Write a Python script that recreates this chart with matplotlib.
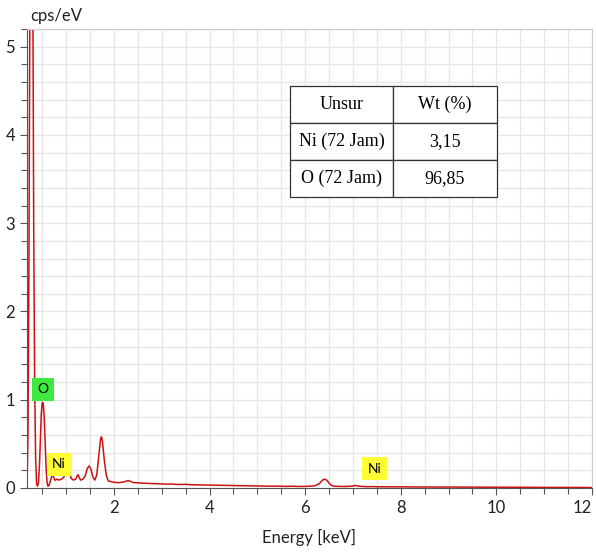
import matplotlib.pyplot as plt
from matplotlib.ticker import MultipleLocator

energy = [0.18, 0.20, 0.22, 0.24, 0.26, 0.28, 0.30, 0.32, 0.34, 0.36, 0.38,
          0.40, 0.42, 0.44, 0.46, 0.48, 0.50, 0.52, 0.54, 0.56, 0.58, 0.60,
          0.62, 0.64, 0.66, 0.68, 0.70, 0.72, 0.74, 0.76, 0.78, 0.80, 0.85,
          0.90, 0.95, 0.98, 1.00, 1.02, 1.04, 1.06, 1.08, 1.10, 1.15, 1.20,
          1.23, 1.25, 1.27, 1.30, 1.35, 1.40, 1.44, 1.48, 1.52, 1.56, 1.60,
          1.64, 1.68, 1.72, 1.74, 1.76, 1.80, 1.84, 1.88, 1.95,
          2.0, 2.1, 2.2, 2.3, 2.4, 2.5, 2.6, 2.7, 2.8, 2.9,
          3.0, 3.1, 3.2, 3.3, 3.4, 3.5, 3.6, 3.7, 3.8, 3.9,
          4.0, 4.1, 4.2, 4.3, 4.4, 4.5, 4.6, 4.7, 4.8, 4.9,
          5.0, 5.1, 5.2, 5.3, 5.4, 5.5, 5.6, 5.7, 5.8, 5.9,
          6.0, 6.1, 6.2, 6.3, 6.35, 6.4, 6.45, 6.5, 6.55, 6.6,
          6.7, 6.8, 6.9, 7.0, 7.05, 7.1, 7.2, 7.3, 7.4, 7.5, 7.6, 7.8, 8.0,
          8.2, 8.4, 8.6, 8.8, 9.0, 9.2, 9.4, 9.6, 9.8, 10.0,
          10.2, 10.4, 10.6, 10.8, 11.0, 11.2, 11.4, 11.6, 11.8, 12.0]
counts = [0.00, 0.60, 2.50, 5.50, 8.00, 8.50, 6.00, 3.00, 1.20, 0.35, 0.05,
          0.02, 0.06, 0.25, 0.55, 0.85, 0.97, 0.96, 0.80, 0.50, 0.22, 0.06,
          0.02, 0.03, 0.06, 0.10, 0.14, 0.15, 0.12, 0.09, 0.09, 0.10, 0.09,
          0.10, 0.12, 0.20, 0.30, 0.34, 0.33, 0.27, 0.17, 0.11, 0.09, 0.10,
          0.14, 0.15, 0.12, 0.09, 0.10, 0.14, 0.22, 0.25, 0.21, 0.12, 0.09,
          0.15, 0.36, 0.56, 0.58, 0.52, 0.30, 0.14, 0.08, 0.07,
          0.065, 0.060, 0.068, 0.085, 0.062, 0.058, 0.055, 0.052, 0.050, 0.048,
          0.046, 0.044, 0.045, 0.041, 0.040, 0.042, 0.037, 0.036, 0.035, 0.033,
          0.032, 0.033, 0.030, 0.029, 0.030, 0.027, 0.026, 0.027, 0.024, 0.023,
          0.022, 0.023, 0.021, 0.020, 0.021, 0.019, 0.018, 0.020, 0.018, 0.017,
          0.018, 0.020, 0.025, 0.050, 0.085, 0.100, 0.090, 0.055, 0.030, 0.020,
          0.018, 0.017, 0.018, 0.022, 0.030, 0.022, 0.017, 0.015, 0.016, 0.014, 0.014, 0.013, 0.013,
          0.012, 0.012, 0.011, 0.011, 0.010, 0.010, 0.010, 0.009, 0.009, 0.009,
          0.008, 0.008, 0.008, 0.007, 0.007, 0.007, 0.006, 0.006, 0.006, 0.005]

x_ticks = [2, 4, 6, 8, 10, 12]
y_ticks = [0, 1, 2, 3, 4, 5]

# element markers: symbol, keV, height, box colour
peak_labels = ['O', 'Ni', 'Ni']
label_energy = [0.52, 0.85, 7.46]
label_height = [1.12, 0.27, 0.22]
label_colors = ['#3ee83e', '#ffff33', '#ffff33']

table_rows = [['Unsur', 'Wt (%)'],
              ['Ni (72 Jam)', '3,15'],
              ['O (72 Jam)', '96,85']]

sans = ['Lato', 'DejaVu Sans']

fig = plt.figure(figsize=(5.96, 5.57), dpi=100)
ax = fig.add_axes([27 / 596, 69 / 557, 565 / 596, 459 / 557])

ax.plot(energy, counts, color='#cc1111', linewidth=1.1)

ax.set_xlim(0.18, 12)
ax.set_ylim(0, 5.2)
ax.set_xticks(x_ticks, labels=[str(t) for t in x_ticks])
ax.set_yticks(y_ticks, labels=[str(t) for t in y_ticks])
ax.xaxis.set_minor_locator(MultipleLocator(0.5))
ax.yaxis.set_minor_locator(MultipleLocator(0.2))
ax.grid(True, which='both', color='#e6e6e6', linewidth=0.9)
ax.set_axisbelow(True)

ax.tick_params(which='both', direction='out', color='#555555', length=4, width=0.8)
ax.tick_params(which='major', labelsize=12, length=5, labelcolor='#222222')
for tick in ax.xaxis.get_major_ticks() + ax.yaxis.get_major_ticks():
    tick.label1.set_family(sans)
# keep the last energy label inside the figure
ax.xaxis.get_major_ticks()[-1].label1.set_horizontalalignment('right')

for side in ['left', 'bottom']:
    ax.spines[side].set_color('#555555')
for side in ['top', 'right']:
    ax.spines[side].set_color('#cccccc')

ax.set_xlabel('Energy [keV]', family=sans, fontsize=12, color='#222222')
ax.xaxis.set_label_coords(0.5, -0.09)
fig.text(30 / 596, 1 - 16 / 557, 'cps/eV', family=sans, fontsize=12,
         color='#222222', ha='left', va='center')

for name, x, y, c in zip(peak_labels, label_energy, label_height, label_colors):
    ax.text(x, y, name, family=sans, fontsize=10, ha='center', va='center',
            bbox=dict(boxstyle='square,pad=0.4', facecolor=c, edgecolor='none'))

tab = ax.table(cellText=table_rows, cellLoc='center',
               bbox=[0.465, 0.634, 0.366, 0.242])
tab.set_zorder(5)
tab.auto_set_font_size(False)
for cell in tab.get_celld().values():
    cell.set_edgecolor('#333333')
    cell.set_linewidth(0.9)
    cell.set_facecolor('white')
    cell.get_text().set_family('Liberation Serif')
    cell.get_text().set_fontsize(13)

fig.savefig('out.png', dpi=100)
